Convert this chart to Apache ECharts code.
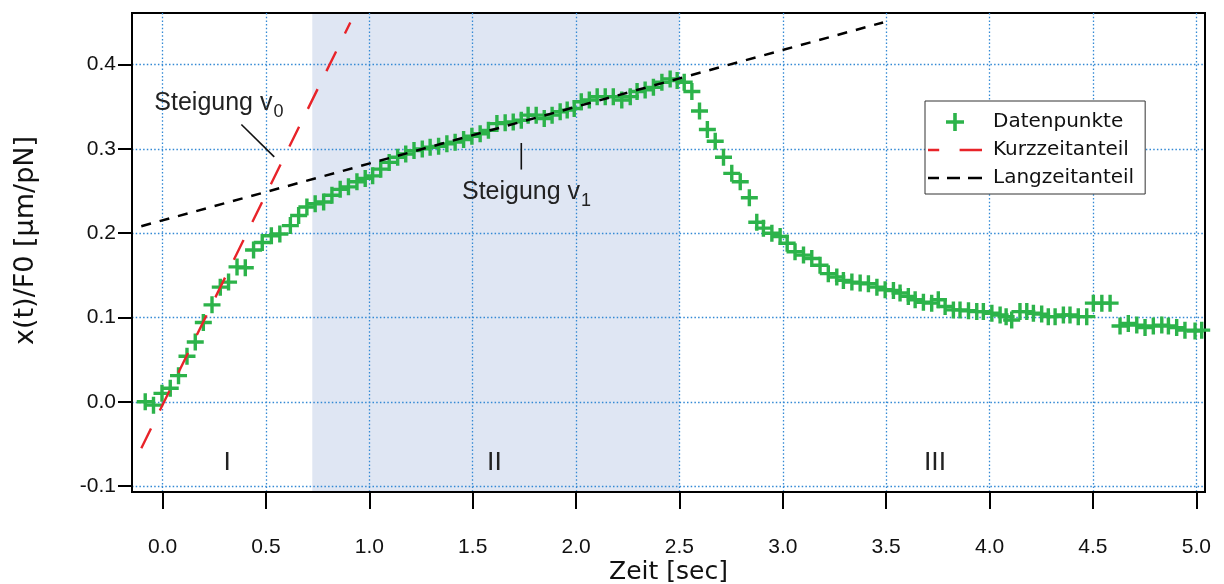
<!DOCTYPE html>
<html><head><meta charset="utf-8">
<script src="https://cdn.jsdelivr.net/npm/echarts@6/dist/echarts.min.js"></script>
<style>html,body{margin:0;padding:0;background:#fff}#c{width:1224px;height:584px}</style>
</head><body><div id="c"></div>
<script>
// ---- data ----
const timeSec = [-0.084,-0.044,-0.003,0.037,0.077,0.118,0.158,0.197,0.239,0.279,
0.319,0.360,0.400,0.440,0.482,0.526,0.567,0.618,0.658,0.698,
0.738,0.779,0.819,0.859,0.899,0.940,0.980,1.016,1.055,1.096,
1.137,1.176,1.216,1.256,1.294,1.335,1.375,1.415,1.456,1.496,
1.536,1.576,1.617,1.657,1.696,1.735,1.768,1.807,1.846,1.884,
1.923,1.957,1.991,2.025,2.064,2.102,2.141,2.180,2.221,2.262,
2.295,2.334,2.374,2.415,2.455,2.489,2.523,2.560,2.597,2.635,
2.673,2.713,2.753,2.794,2.838,2.874,2.906,2.947,2.987,3.021,
3.059,3.100,3.140,3.180,3.220,3.261,3.293,3.334,3.374,3.414,
3.455,3.495,3.535,3.567,3.607,3.640,3.680,3.720,3.752,3.785,
3.825,3.857,3.898,3.938,3.970,4.011,4.051,4.080,4.107,4.147,
4.180,4.212,4.252,4.284,4.317,4.357,4.389,4.429,4.470,4.502,
4.543,4.583,4.631,4.671,4.712,4.752,4.792,4.833,4.865,4.905,
4.945,4.994,5.026];
const xOverF0 = [0.000,-0.004,0.010,0.016,0.031,0.054,0.071,0.094,0.115,0.136,
0.142,0.160,0.159,0.180,0.189,0.197,0.199,0.209,0.221,0.231,
0.235,0.237,0.245,0.252,0.255,0.261,0.265,0.268,0.276,0.284,
0.290,0.294,0.298,0.300,0.302,0.303,0.306,0.308,0.311,0.315,
0.318,0.322,0.330,0.331,0.332,0.334,0.340,0.340,0.336,0.340,
0.344,0.346,0.348,0.356,0.358,0.362,0.362,0.362,0.358,0.362,
0.368,0.370,0.373,0.379,0.383,0.381,0.379,0.368,0.345,0.323,
0.309,0.290,0.271,0.261,0.242,0.213,0.206,0.200,0.196,0.188,
0.178,0.174,0.170,0.162,0.152,0.148,0.144,0.142,0.141,0.140,
0.136,0.133,0.132,0.129,0.125,0.121,0.118,0.117,0.121,0.113,
0.109,0.109,0.108,0.107,0.107,0.105,0.103,0.101,0.097,0.107,
0.107,0.105,0.104,0.101,0.101,0.103,0.103,0.101,0.101,0.117,
0.117,0.117,0.090,0.093,0.091,0.088,0.090,0.091,0.090,0.088,
0.085,0.084,0.085];
const kurzT = [-0.103, 0.908];
const kurzY = [-0.055, 0.450];
const langT = [-0.103, 3.485];
const langY = [0.2083, 0.450];
const phaseII = [0.724, 2.5];
const xTickValues = [0,0.5,1,1.5,2,2.5,3,3.5,4,4.5,5];
const yTickValues = [-0.1,0,0.1,0.2,0.3,0.4];
const seriesNames = ['Datenpunkte','Kurzzeitanteil','Langzeitanteil'];
const phaseNames = ['I','II','III'];
const phaseNameT = [0.313, 1.605, 3.736];
const phaseNameY = -0.073;
const xTitle = 'Zeit [sec]';
const yTitle = 'x(t)/F0 [µm/pN]';

// ---- styling ----
const GREEN = '#2cb34a', RED = '#e82329', GRIDC = '#3389d4';
const WIDE = 'DejaVu Sans', NARROW = 'Liberation Sans';
const PLUS = 'path://M8,0H12V8H20V12H12V20H8V12H0V8H8Z';
const RED_DASH_ICON = 'path://M1,0H12V2.4H1Z M32,0H54V2.4H32Z';
const BLACK_DASH_ICON = 'path://M0,0H11V2.6H0Z M19,0H32V2.6H19Z M40,0H54V2.6H40Z';

const pts = timeSec.map((t, i) => [t, xOverF0[i]]);
const chart = echarts.init(document.getElementById('c'), null, {renderer: 'canvas'});

const axisCommon = {
  type: 'value',
  axisLine: {show: true, onZero: false, lineStyle: {color: '#000', width: 2}},
  splitLine: {show: true, lineStyle: {color: GRIDC, width: 1.3, type: [1.5, 2.2]}}
};

chart.setOption({
  backgroundColor: '#fff',
  animation: false,
  grid: {left: 132, right: 19, top: 13, bottom: 92, show: true, borderColor: '#000', borderWidth: 2,
         backgroundColor: 'transparent', containLabel: false, outerBoundsMode: 'none'},
  xAxis: Object.assign({}, axisCommon, {
    min: -0.148, max: 5.042, splitNumber: 10,
    name: xTitle, nameLocation: 'middle', nameGap: 68, nameMoveOverlap: false,
    nameTextStyle: {fontFamily: WIDE, fontSize: 25, color: '#111'},
    axisTick: {show: true, inside: false, length: 17, lineStyle: {color: '#000', width: 2}, customValues: xTickValues},
    axisLabel: {customValues: xTickValues, margin: 45, fontFamily: NARROW, fontSize: 21, color: '#111', formatter: v => Number(v).toFixed(1)}
  }),
  yAxis: Object.assign({}, axisCommon, {
    min: -0.107, max: 0.4612, splitNumber: 6,
    name: yTitle, nameLocation: 'middle', nameGap: 93, nameRotate: 90, nameMoveOverlap: false,
    nameTextStyle: {fontFamily: WIDE, fontSize: 27, color: '#111', padding: [0, 0, 0, 24]},
    axisTick: {show: true, inside: false, length: 14, lineStyle: {color: '#000', width: 2}, customValues: yTickValues},
    axisLabel: {customValues: yTickValues, margin: 16, fontFamily: NARROW, fontSize: 21, color: '#111', formatter: v => Number(v).toFixed(1)}
  }),
  legend: {
    orient: 'vertical', left: 925, top: 101,
    data: [
      {name: seriesNames[0]},
      {name: seriesNames[1], icon: RED_DASH_ICON, itemStyle: {color: RED}},
      {name: seriesNames[2], icon: BLACK_DASH_ICON, itemStyle: {color: '#000'}}
    ],
    backgroundColor: '#fff', borderColor: '#333', borderWidth: 1,
    padding: [11, 11, 6, 3], itemGap: 8, itemWidth: 54, itemHeight: 18,
    textStyle: {fontFamily: WIDE, fontSize: 20, color: '#111', lineHeight: 20, padding: [0, 0, 0, 6]},
    selectedMode: false
  },
  series: [
    {
      name: 'shade', type: 'line', data: [], z: -1, silent: true,
      markArea: {silent: true, z: -1, itemStyle: {color: '#dfe6f3'}, data: [[{xAxis: phaseII[0]}, {xAxis: phaseII[1]}]]}
    },
    {
      name: seriesNames[0], type: 'scatter', data: pts, symbol: PLUS, symbolSize: 17, z: 2,
      itemStyle: {color: GREEN, opacity: 1}
    },
    {
      name: seriesNames[1], type: 'line', data: kurzT.map((t, i) => [t, kurzY[i]]), symbol: 'none', z: 3,
      lineStyle: {color: RED, width: 2.4, type: [22, 20]}, itemStyle: {color: RED}
    },
    {
      name: seriesNames[2], type: 'line', data: langT.map((t, i) => [t, langY[i]]), symbol: 'none', z: 3,
      lineStyle: {color: '#000', width: 2.5, type: [10, 9]}, itemStyle: {color: '#000'}
    }
  ]
});

// ---- annotations (placed through the chart's own coordinate system) ----
function px(t, v) { return chart.convertToPixel({gridIndex: 0}, [t, v]); }
const meas = document.createElement('canvas').getContext('2d');
function textW(s, size, fam) { meas.font = size + 'px "' + fam + '"'; return meas.measureText(s).width; }
const annSize = 25, subSize = 18;
const annotations = [
  {text: 'Steigung v', sub: '0', at: [-0.040, 0.354], line: [[0.381, 0.329], [0.540, 0.2905]]},
  {text: 'Steigung v', sub: '1', at: [1.448, 0.2487], line: [[1.735, 0.307], [1.735, 0.2755]]}
];
const g = [];
annotations.forEach(a => {
  const p = px(a.at[0], a.at[1]);
  const w = textW(a.text, annSize, NARROW);
  g.push({type: 'text', x: p[0], y: p[1], z: 10, style: {text: a.text, fontFamily: NARROW, fontSize: annSize, fill: '#222', align: 'left', verticalAlign: 'middle'}});
  g.push({type: 'text', x: p[0] + w + 1, y: p[1] + 9, z: 10, style: {text: a.sub, fontFamily: NARROW, fontSize: subSize, fill: '#222', align: 'left', verticalAlign: 'middle'}});
  const l0 = px(a.line[0][0], a.line[0][1]), l1 = px(a.line[1][0], a.line[1][1]);
  g.push({type: 'line', z: 10, shape: {x1: l0[0], y1: l0[1], x2: l1[0], y2: l1[1]}, style: {stroke: '#111', lineWidth: 1.6}});
});
phaseNames.forEach((n, i) => {
  const p = px(phaseNameT[i], phaseNameY);
  g.push({type: 'text', x: p[0], y: p[1], z: 10, style: {text: n, fontFamily: WIDE, fontSize: 25, fill: '#222', align: 'center', verticalAlign: 'middle'}});
});
chart.setOption({graphic: g});
</script></body></html>
